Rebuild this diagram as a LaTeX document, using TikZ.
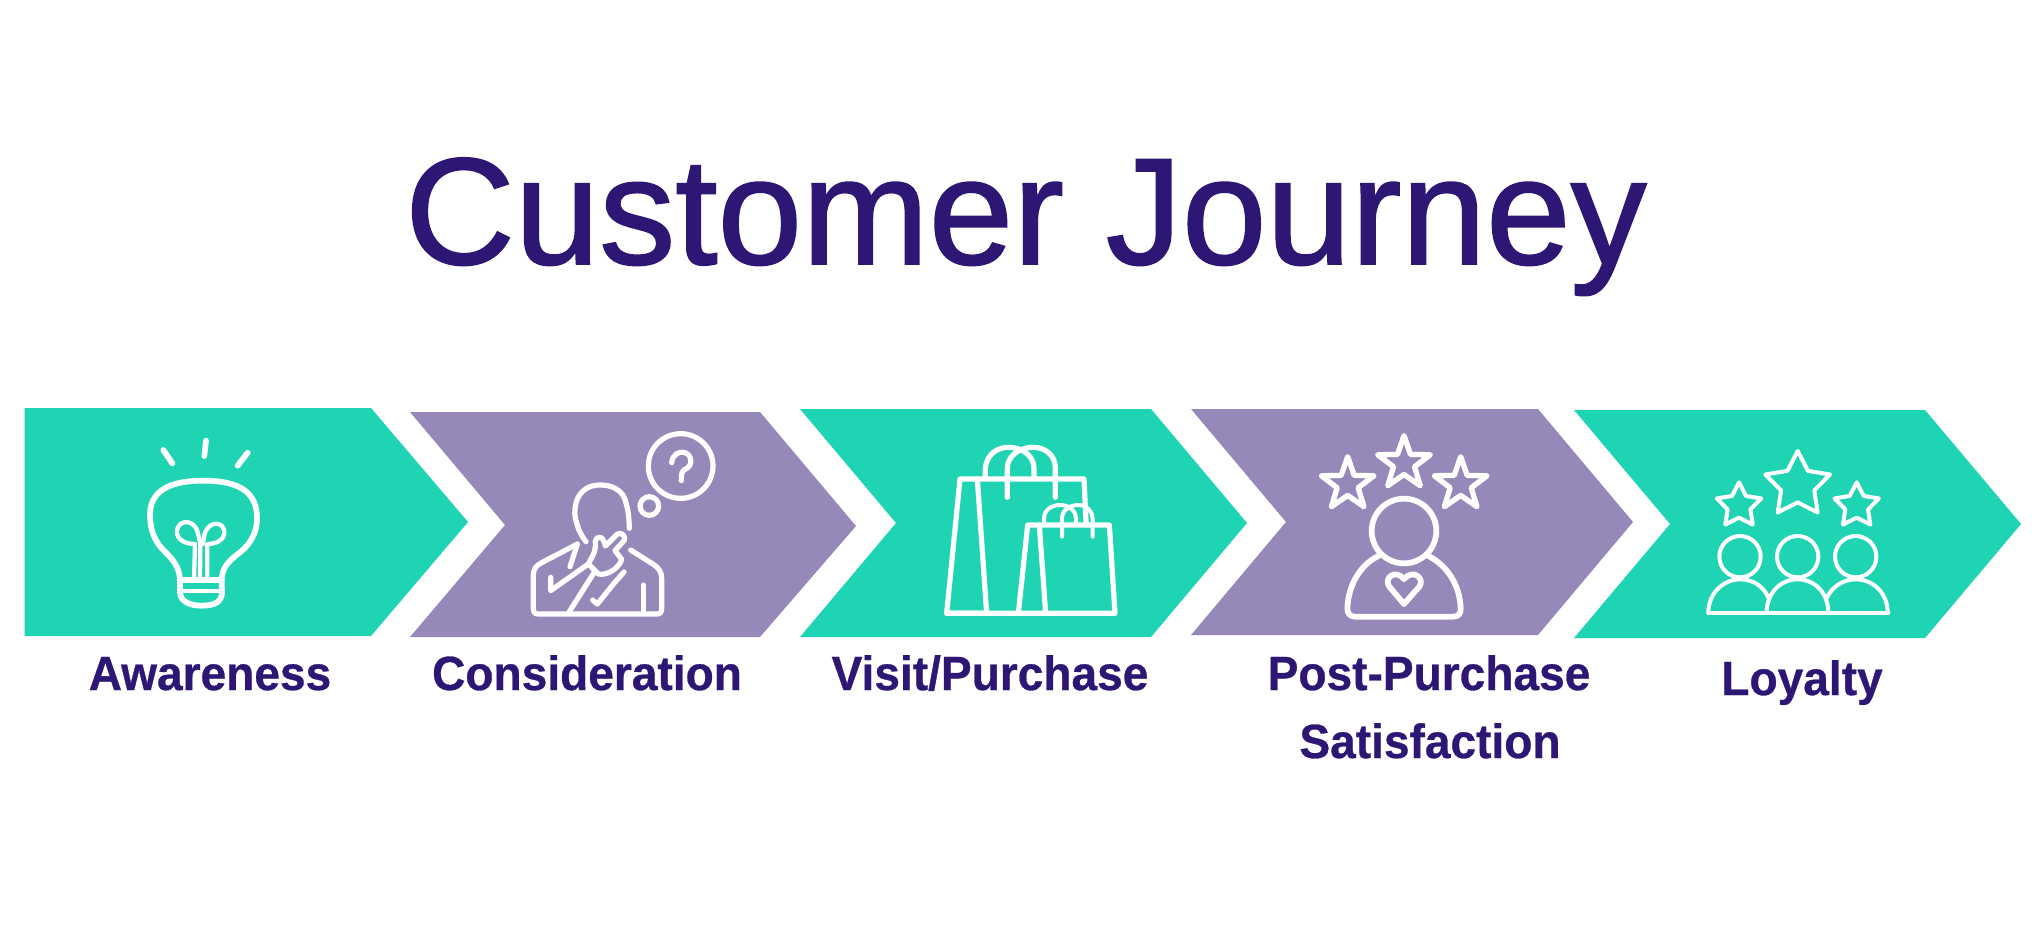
\documentclass[tikz,border=0pt]{standalone}
\usepackage{fontspec}
\setmainfont{Liberation Sans}
\newfontfamily\headfont[FakeBold=1.2]{Liberation Sans}
\newfontfamily\labelfont[FakeStretch=0.96,FakeBold=0.6]{Liberation Sans Bold}
\usetikzlibrary{shapes.geometric}
\definecolor{teal}{HTML}{1FD4B2}
\definecolor{mauve}{HTML}{9689BA}
\definecolor{navy}{HTML}{2E1675}
\tikzset{
  tealshape/.style={fill=teal,draw=none},
  mauveshape/.style={fill=mauve,draw=none},
  title/.style={text=navy,anchor=base,inner sep=0pt,font=\headfont\fontsize{114}{120}\selectfont},
  stagelabel/.style={text=navy,anchor=base,inner sep=0pt,font=\labelfont\fontsize{36}{40}\selectfont},
  ico/.style={draw=white,line width=3.9pt,line cap=round,line join=round,fill=none},
  icob/.style={draw=white,line width=4.3pt,line cap=round,line join=round,fill=none},
  icothin/.style={draw=white,line width=3pt,line cap=round,line join=round,fill=none},
  icofine/.style={draw=white,line width=3.2pt,line cap=round,line join=round,fill=none},
  staricon/.style={star,star points=5,draw=white,inner sep=0pt,line join=round,fill=none},
  zoomed/.style={x=0.25pt,y=-0.25pt}
}
\begin{document}
\begin{tikzpicture}[x=0.75pt,y=-0.75pt]
\useasboundingbox (0,0) rectangle (2041,938);
\fill[white] (0,0) rectangle (2041,938);

\node[title] (heading) at (1026,264) {Customer Journey};

% chevrons
\fill[tealshape] (24.5,408)--(371,408)--(468,522)--(371,636)--(24.5,636)--cycle;
\fill[mauveshape] (410,412)--(760,412)--(856,526)--(760,637)--(410,637)--(505,525)--cycle;
\fill[tealshape] (800,409)--(1151,409)--(1247,523)--(1151,637)--(800,637)--(896,523)--cycle;
\fill[mauveshape] (1191,409)--(1538,409)--(1633,522)--(1538,635)--(1191,635)--(1286,522)--cycle;
\fill[tealshape] (1574,410)--(1925,410)--(2021,524)--(1925,638)--(1574,638)--(1670,524)--cycle;

% labels
\node[stagelabel] (awareness) at (210,690) {Awareness};
\node[stagelabel] (consideration) at (587,690) {Consideration};
\node[stagelabel] (visit) at (990,690) {Visit/Purchase};
\node[stagelabel] (post) at (1429,690) {Post-Purchase};
\node[stagelabel] (satisfaction) at (1430,758) {Satisfaction};
\node[stagelabel] (loyalty) at (1802,695) {Loyalty};

% light bulb
\begin{scope}[shift={(120,420)},zoomed]
\draw[icob] (130,90)--(157,130) (258,62)--(253,108) (383,98)--(353,137);
\draw[icob] (180,480) .. controls (178,440) and (160,420) .. (130,390) .. controls (105,365) and (90,330) .. (90,285) .. controls (90,225) and (130,182) .. (250,182) .. controls (370,182) and (411,225) .. (411,295) .. controls (411,345) and (385,380) .. (350,405) .. controls (320,428) and (305,450) .. (305,480);
\draw[icob] (180,480) -- (180,518) .. controls (182,545) and (210,557) .. (245,557) .. controls (285,557) and (305,545) .. (306,518) -- (305,480) -- cycle;
\draw[icofine] (182,514) -- (304,514);
\draw[icofine] (222,478) -- (225,372) .. controls (185,372) and (165,350) .. (172,326) .. controls (182,296) and (226,300) .. (234,340) -- (241,372) -- (240,478);
\draw[icofine] (262,478) -- (262,372) .. controls (300,372) and (320,350) .. (311,326) .. controls (298,298) and (260,312) .. (253,345) -- (249,372);
\end{scope}

% thinking person
\begin{scope}[shift={(520,420)},zoomed]
\draw[ico] (482,138) circle[radius=97];
\draw[ico] (388,258) circle[radius=28];
\draw[ico] (455,128) .. controls (458,100) and (480,95) .. (490,97) .. controls (515,100) and (520,135) .. (500,145) .. controls (485,152) and (484,158) .. (484,182);
\draw[ico] plot[smooth,tension=0.7] coordinates {(198,365)(175,325)(165,265)(190,212)(245,195)(300,215)(322,265)(328,325)};
\draw[ico] (172,372) -- (65,428) .. controls (48,436) and (40,448) .. (40,465) -- (40,565) .. controls (40,578) and (45,582) .. (55,582) -- (410,582) .. controls (420,582) and (425,578) .. (425,565) -- (425,475) .. controls (425,455) and (415,443) .. (400,433) -- (332,390);
\draw[ico] (172,372) -- (150,440);
\draw[ico] (92,472) -- (92,512) -- (205,432);
\draw[ico] (205,432) .. controls (215,410) and (228,400) .. (226,365) .. controls (230,345) and (250,345) .. (256,378) -- (292,342) .. controls (305,335) and (320,350) .. (312,362) -- (285,392) -- (305,418) .. controls (300,440) and (265,468) .. (235,462) -- cycle;
\draw[ico] (222,458) -- (148,575);
\draw[ico] (218,540) -- (232,552) -- (282,490) -- (312,456);
\draw[ico] (370,495) -- (370,578);
\end{scope}

% shopping bags
\begin{scope}[shift={(930,430)},zoomed]
\draw[ico] (468,275) -- (462,147) -- (90,147) -- (50,550) -- (170,550);
\draw[ico] (142,147) -- (170,550);
\draw[ico] (50,550) -- (555,550) -- (538,285) -- (293,285) -- (265,550);
\draw[ico] (328,285) -- (347,550);
\draw[ico] (166,145) -- (166,115) .. controls (170,70) and (205,52) .. (235,52) .. controls (280,52) and (312,80) .. (312,115) -- (312,145);
\draw[ico] (232,202) -- (232,115) .. controls (232,80) and (265,52) .. (310,52) .. controls (345,52) and (376,75) .. (376,115) -- (376,202);
\draw[icothin] (342,283) -- (342,265) .. controls (342,240) and (365,225) .. (390,225) .. controls (420,225) and (438,245) .. (438,265) -- (438,283);
\draw[icothin] (396,320) -- (396,265) .. controls (396,240) and (420,225) .. (445,225) .. controls (470,225) and (488,245) .. (488,265) -- (488,320);
\end{scope}

% post-purchase satisfaction
\begin{scope}[shift={(1300,425)},zoomed]
\node[staricon,star point ratio=2.5,minimum size=41.5pt,line width=4pt] (ps1) at (143,178) {};
\node[staricon,star point ratio=2.5,minimum size=41.5pt,line width=4pt] (ps2) at (312,115) {};
\node[staricon,star point ratio=2.5,minimum size=41.5pt,line width=4pt] (ps3) at (482,178) {};
\draw[icob] (312,318) circle[radius=97];
\draw[icob] (235,393) .. controls (180,420) and (145,480) .. (142,550) .. controls (142,565) and (150,575) .. (165,575) -- (460,575) .. controls (475,575) and (483,565) .. (482,550) .. controls (480,480) and (440,420) .. (385,393);
\draw[icob] (312,537) -- (268,485) .. controls (250,460) and (285,430) .. (312,462) .. controls (340,430) and (375,460) .. (358,485) -- cycle;
\end{scope}

% loyalty
\begin{scope}[shift={(1690,440)},zoomed]
\node[staricon,star point ratio=1.95,minimum size=51pt,line width=3pt] (ls1) at (323,135) {};
\node[staricon,star point ratio=1.95,minimum size=35pt,line width=3pt] (ls2) at (147,197) {};
\node[staricon,star point ratio=1.95,minimum size=35pt,line width=3pt] (ls3) at (500,197) {};
\draw[icothin] (150,350) circle[radius=62];
\draw[icothin] (323,350) circle[radius=62];
\draw[icothin] (497,350) circle[radius=62];
\draw[icothin] (55,518) -- (595,518);
\draw[icothin] (55,518) .. controls (55,460) and (100,418) .. (150,418) .. controls (190,418) and (222,440) .. (236,475);
\draw[icothin] (230,518) .. controls (230,460) and (270,418) .. (323,418) .. controls (375,418) and (415,460) .. (415,518);
\draw[icothin] (410,475) .. controls (425,440) and (460,418) .. (497,418) .. controls (550,418) and (593,460) .. (593,518);
\end{scope}
\end{tikzpicture}
\end{document}
